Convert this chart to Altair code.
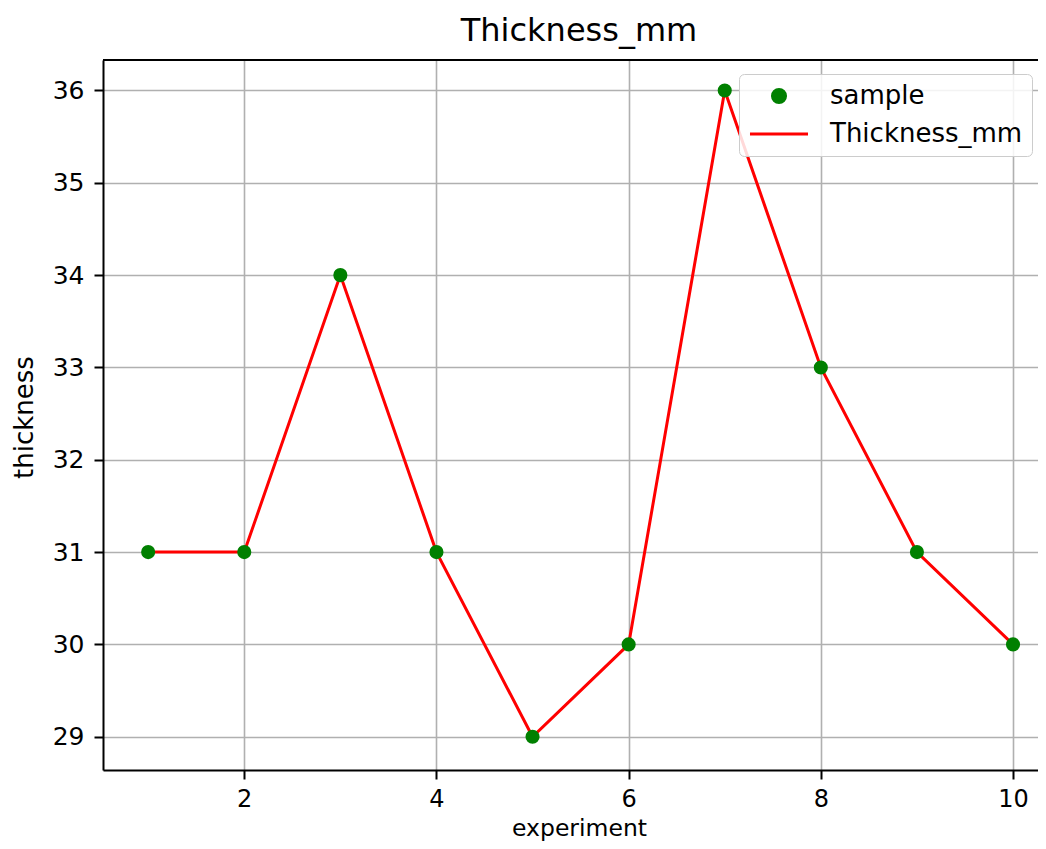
import altair as alt
import pandas as pd

experiment = [1, 2, 3, 4, 5, 6, 7, 8, 9, 10]
thickness = [31, 31, 34, 31, 29, 30, 36, 33, 31, 30]
series_names = ["sample", "Thickness_mm"]
x_ticks = [2, 4, 6, 8, 10]
y_ticks = [29, 30, 31, 32, 33, 34, 35, 36]

df = pd.DataFrame({"experiment": experiment, "thickness": thickness,
                   "series": ["sample"] * len(experiment)})

W, H = 935, 710
FONT = "DejaVu Sans"

xs = alt.Scale(domain=[0.53, 10.26], nice=False, zero=False)
ys = alt.Scale(domain=[28.64, 36.33], nice=False, zero=False)

x_axis = alt.Axis(values=x_ticks, format="d", title="experiment", grid=True, gridColor="#b0b0b0",
                  gridWidth=1.6, domainColor="black", domainWidth=2, tickColor="black",
                  tickWidth=2, tickSize=9, labelPadding=8, labelFontSize=24,
                  labelColor="black", labelFont=FONT, titleFont=FONT, titleFontSize=23.5,
                  titleFontWeight="normal", titleColor="black", titleBaseline="alphabetic",
                  titleY=65, titleX=(579 - 103))
y_axis = alt.Axis(values=y_ticks, format="d", title="thickness", grid=True, gridColor="#b0b0b0",
                  gridWidth=1.6, domainColor="black", domainWidth=2, tickColor="black",
                  tickWidth=2, tickSize=9, labelPadding=10, labelFontSize=25,
                  labelColor="black", labelFont=FONT, titleFont=FONT, titleFontSize=26,
                  titleFontWeight="normal", titleColor="black", titleBaseline="alphabetic",
                  titleAngle=270, titleX=-71, titleY=H / 2 + 2)

base = alt.Chart(df)

line = base.mark_line(color="red", strokeWidth=3).encode(
    x=alt.X("experiment:Q", scale=xs, axis=x_axis),
    y=alt.Y("thickness:Q", scale=ys, axis=y_axis),
)

legend = alt.Legend(title=None, orient="none", legendX=636, legendY=14,
                    labelFontSize=26, labelFont=FONT, labelColor="black", labelLimit=0,
                    symbolSize=170, symbolStrokeWidth=3, symbolOffset=18,
                    labelOffset=38, padding=9, rowPadding=12,
                    strokeColor="#cccccc", fillColor="rgba(255,255,255,0.85)",
                    cornerRadius=5)

points = base.mark_point(filled=True, size=200, opacity=1).encode(
    x=alt.X("experiment:Q", scale=xs),
    y=alt.Y("thickness:Q", scale=ys),
    fill=alt.Fill("series:N", scale=alt.Scale(domain=series_names, range=["green", "red"]),
                  legend=legend),
    stroke=alt.Stroke("series:N", scale=alt.Scale(domain=series_names, range=["green", "red"]),
                      legend=legend),
    shape=alt.Shape("series:N", scale=alt.Scale(domain=series_names,
                                                range=["circle", "M-4.45,0L4.45,0"]),
                    legend=legend),
    strokeWidth=alt.value(0),
)

top_spine = base.mark_rule(color="black", strokeWidth=2).encode(
    x=alt.value(0), x2=alt.value(W), y=alt.value(0)
)

chart = alt.layer(line, points, top_spine).properties(
    width=W, height=H,
    title=alt.TitleParams("Thickness_mm", fontSize=32, font=FONT, fontWeight="normal",
                          color="black", anchor="middle", baseline="alphabetic",
                          offset=18, dy=32, dx=(579 - 103) - W / 2),
    autosize=alt.AutoSizeParams(type="none"),
    padding={"left": 95, "top": 52, "right": 0, "bottom": 71},
).configure_view(stroke=None).configure(background="white")

chart.save("out.html", embed_options={"renderer": "svg", "actions": False})
